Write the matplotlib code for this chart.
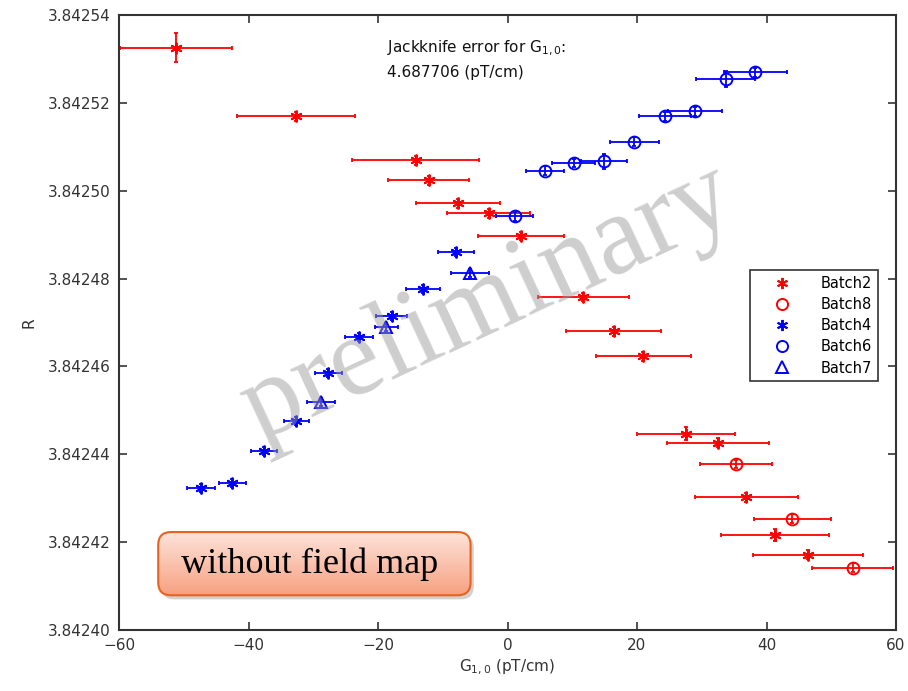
import numpy as np
import matplotlib
matplotlib.use("Agg")
import matplotlib.pyplot as plt
from matplotlib.lines import Line2D
from matplotlib.patches import FancyBboxPatch
from matplotlib.ticker import FormatStrFormatter, MultipleLocator

# --- data: G_{1,0} (pT/cm) vs R, per batch ---
b2_x = [-51.2, -32.7, -14.2, -12.2, -7.6, -2.9, 2.1, 11.7, 16.4, 21.0, 27.6, 32.5, 36.9, 41.3, 46.4]
b2_y = [3.8425326, 3.8425169, 3.8425069, 3.8425024, 3.8424971, 3.8424949, 3.8424897, 3.8424758,
        3.8424680, 3.8424623, 3.8424447, 3.8424426, 3.8424302, 3.8424216, 3.8424171]
b2_xerr = [8.7, 9.1, 9.8, 6.3, 6.5, 6.4, 6.7, 7.0, 7.3, 7.4, 7.6, 7.9, 8.0, 8.3, 8.5]
b2_yerr = [3.2e-6, 1e-6, 1e-6, 1e-6, 1e-6, 1e-6, 1e-6, 1e-6, 1e-6, 1e-6, 1.4e-6, 1e-6, 1e-6, 1.4e-6, 1e-6]

b8_x = [35.3, 44.0, 53.3]
b8_y = [3.8424378, 3.8424253, 3.8424142]
b8_xerr = [5.6, 6.0, 6.3]
b8_yerr = [1e-6, 1e-6, 1e-6]

b4_x = [-47.3, -42.5, -37.6, -32.6, -27.7, -22.9, -17.9, -13.0, -8.0]
b4_y = [3.8424323, 3.8424334, 3.8424407, 3.8424476, 3.8424585, 3.8424667, 3.8424714, 3.8424776, 3.8424861]
b4_xerr = [2.2, 2.1, 1.95, 1.9, 2.1, 2.2, 2.4, 2.6, 2.75]
b4_yerr = [0.9e-6] * 9

b6_x = [1.1, 5.8, 10.2, 14.9, 19.6, 24.3, 29.0, 33.7, 38.3]
b6_y = [3.8424942, 3.8425046, 3.8425063, 3.8425067, 3.8425112, 3.8425169, 3.8425181, 3.8425254, 3.8425270]
b6_xerr = [2.8, 3.0, 3.3, 3.5, 3.8, 4.0, 4.2, 4.6, 4.9]
b6_yerr = [1e-6, 1e-6, 1e-6, 1.75e-6, 1e-6, 1e-6, 1e-6, 1.9e-6, 1e-6]

b7_x = [-28.8, -18.7, -5.8]
b7_y = [3.8424519, 3.8424690, 3.8424812]
b7_xerr = [2.1, 1.8, 3.0]
b7_yerr = [0.9e-6] * 3

jackknife_err = "4.687706"

asterisk = (6, 2, 0)
series = [
    ("Batch2", b2_x, b2_y, b2_xerr, b2_yerr, "#ff0000", asterisk),
    ("Batch8", b8_x, b8_y, b8_xerr, b8_yerr, "#ff0000", "o"),
    ("Batch4", b4_x, b4_y, b4_xerr, b4_yerr, "#0000ff", asterisk),
    ("Batch6", b6_x, b6_y, b6_xerr, b6_yerr, "#0000ff", "o"),
    ("Batch7", b7_x, b7_y, b7_xerr, b7_yerr, "#0000ff", "^"),
]

plt.rcParams["font.family"] = "DejaVu Sans"
axis_col = "#333333"

fig = plt.figure(figsize=(9.08, 6.91), dpi=100)
ax = fig.add_axes([119 / 908, 1 - 630 / 691, 777 / 908, 615 / 691])

handles = []
for name, xs, ys, xe, ye, col, mk in series:
    ax.errorbar(xs, ys, xerr=xe, yerr=ye, fmt="none", ecolor=col, elinewidth=1.3,
                capsize=1.6, capthick=1.3, zorder=2)
    ax.plot(xs, ys, linestyle="none", marker=mk, markersize=8.5, markerfacecolor="none",
            markeredgecolor=col, markeredgewidth=1.4, zorder=3)
    handles.append(Line2D([], [], linestyle="none", marker=mk, markersize=8,
                          markerfacecolor="none", markeredgecolor=col,
                          markeredgewidth=1.4, label=name))

ax.set_xlim(-60, 60)
ax.set_ylim(3.84240, 3.84254)
ax.xaxis.set_major_locator(MultipleLocator(20))
ax.yaxis.set_major_locator(MultipleLocator(0.00002))
ax.yaxis.set_major_formatter(FormatStrFormatter("%.5f"))
ax.tick_params(direction="in", length=6, width=1.2, top=True, right=True,
               labelsize=11, colors=axis_col, pad=6)
for sp in ax.spines.values():
    sp.set_color(axis_col)
    sp.set_linewidth(1.5)

ax.set_xlabel(r"G$_{1,0}$ (pT/cm)", fontsize=11, color=axis_col, labelpad=3)
ax.set_ylabel("R", fontsize=11, color=axis_col, labelpad=8)

ax.text(0.345, 0.946, r"Jackknife error for G$_{1,0}$:", transform=ax.transAxes,
        fontsize=11, va="center", ha="left", color="#111111")
ax.text(0.345, 0.906, jackknife_err + " (pT/cm)", transform=ax.transAxes,
        fontsize=11, va="center", ha="left", color="#111111")

leg = ax.legend(handles=handles, loc="upper right", bbox_to_anchor=(0.977, 0.585),
                borderaxespad=0, fancybox=False, framealpha=1, fontsize=10.5,
                handlelength=3.6, handletextpad=0.85, labelspacing=0.42, borderpad=0.4)
leg.get_frame().set_edgecolor(axis_col)
leg.get_frame().set_linewidth(1.2)

# watermark on top of the data
ax.text(0.475, 0.53, "preliminary", transform=ax.transAxes, fontsize=82,
        family="Liberation Serif", color="#999999", alpha=0.48, rotation=25,
        ha="center", va="center", zorder=10)

# rounded gradient label box
bx, by, bw, bh = 155, 530, 322, 68
box_ax = fig.add_axes([bx / 908, 1 - (by + bh) / 691, bw / 908, bh / 691])
box_ax.set_xlim(0, 1)
box_ax.set_ylim(0, 1)
box_ax.axis("off")
shadow = FancyBboxPatch((0.02, -0.02), 0.97, 0.94, boxstyle="round,pad=0,rounding_size=0.04",
                        mutation_aspect=bw / bh, facecolor="#000000", alpha=0.18,
                        edgecolor="none", clip_on=False)
box_ax.add_patch(shadow)
top = np.array([253, 230, 222]) / 255
bot = np.array([247, 158, 125]) / 255
t = np.linspace(0, 1, 256)[:, None]
grad = (bot[None, :] * (1 - t) + top[None, :] * t)[:, None, :]
img = box_ax.imshow(grad, extent=[0, 1, 0, 1], aspect="auto", origin="lower", zorder=1)
frame = FancyBboxPatch((0.01, 0.04), 0.97, 0.93, boxstyle="round,pad=0,rounding_size=0.04",
                       mutation_aspect=bw / bh, facecolor="none", edgecolor="#e8641e",
                       linewidth=1.5, zorder=2)
box_ax.add_patch(frame)
img.set_clip_path(frame)
box_ax.text(0.48, 0.5, "without field map", fontsize=26, family="Liberation Serif",
            ha="center", va="center", color="black", zorder=3)

fig.savefig("out.png", dpi=100, facecolor="white")
